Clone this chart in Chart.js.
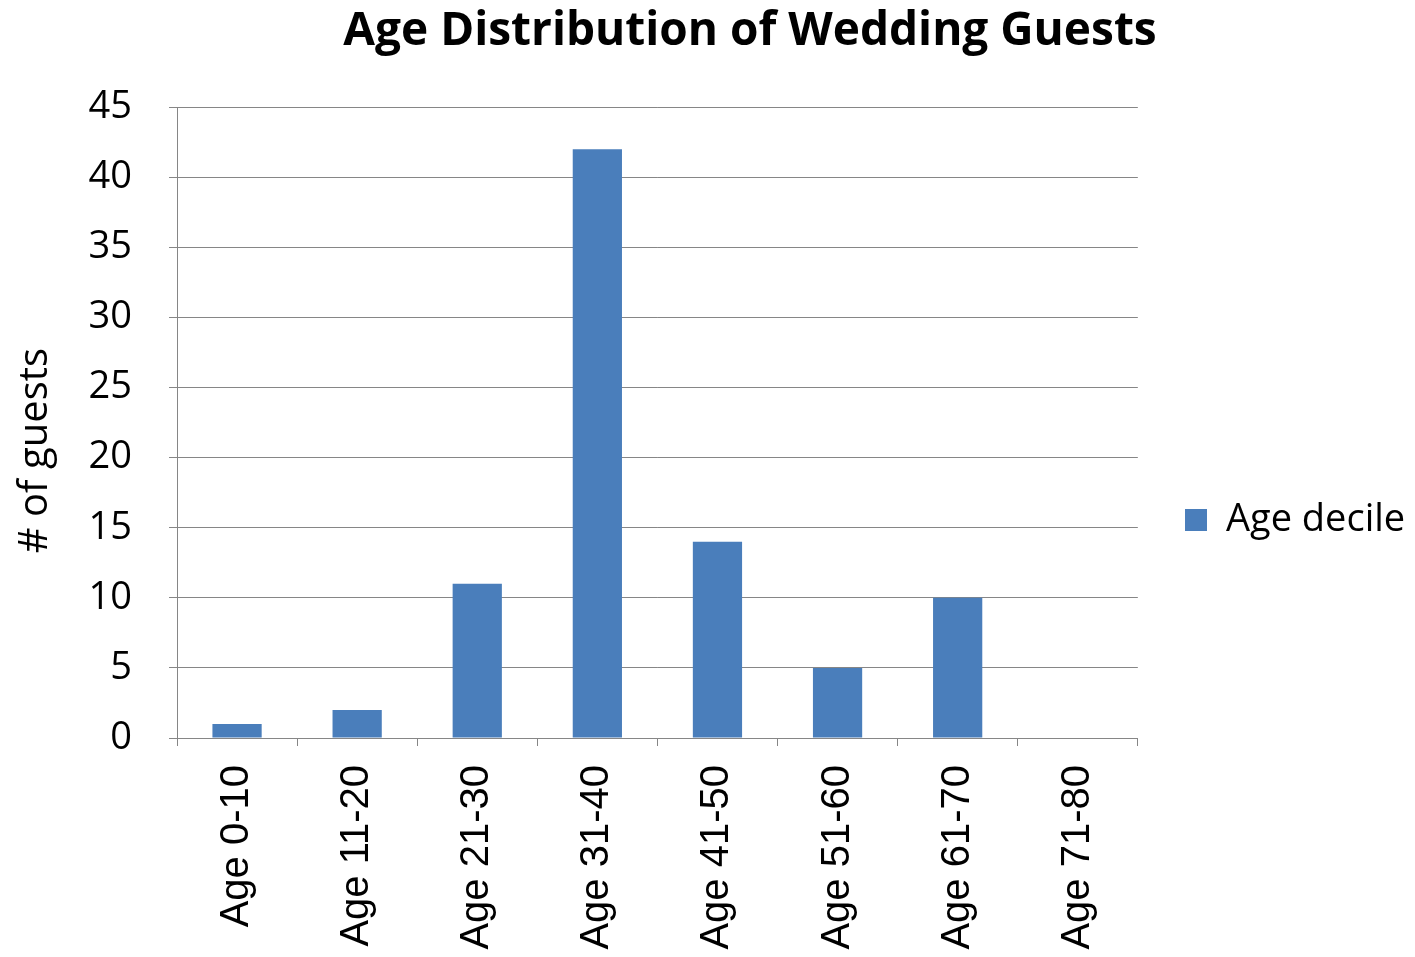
<!DOCTYPE html>
<html>
<head>
<meta charset="utf-8">
<title>Age Distribution of Wedding Guests</title>
<script src="https://cdn.jsdelivr.net/npm/chart.js@4"></script>
<style>
    body { margin: 0; background: #fff; }
    canvas { display: block; }
</style>
</head>
<body>
<canvas id="guests" width="1415" height="957"></canvas>
<script>
    // guest counts per age band
    const ageBands = ['Age 0-10', 'Age 11-20', 'Age 21-30', 'Age 31-40',
                      'Age 41-50', 'Age 51-60', 'Age 61-70', 'Age 71-80'];
    const guestCounts = [1, 2, 11, 42, 14, 5, 10, 0];
    const yTicks = [0, 5, 10, 15, 20, 25, 30, 35, 40, 45];

    const gridGray = '#868686';
    const barBlue = '#4a7ebb';

    Chart.defaults.font.family = "'Open Sans', sans-serif";
    Chart.defaults.color = '#000';

    // nudge title, legend and y title into place once the layout is done
    const placeBoxes = {
        id: 'placeBoxes',
        afterLayout(chart) {
            const t = chart.titleBlock;
            if (t) { t.left += 61; t.right += 61; }
            const lg = chart.legend;
            if (lg) {
                const w = lg.right - lg.left;
                lg.left = 1175; lg.right = 1175 + w;
                const h = lg.bottom - lg.top;
                lg.top = 491; lg.bottom = 491 + h;
            }
            const y = chart.scales.y;
            if (y && !y._titleShifted) {
                const drawTitle = y.drawTitle;
                y.drawTitle = function () {
                    this.ctx.save();
                    this.ctx.translate(0, 28);
                    drawTitle.call(this);
                    this.ctx.restore();
                };
                y._titleShifted = true;
            }
        }
    };

    const ctx = document.getElementById('guests');
    const myChart = new Chart(ctx, {
        type: 'bar',
        data: {
            labels: ageBands,
            datasets: [{
                label: 'Age decile',
                data: guestCounts,
                backgroundColor: barBlue,
                borderWidth: 0,
                barPercentage: 0.41,
                categoryPercentage: 1
            }]
        },
        plugins: [placeBoxes],
        options: {
            responsive: false,
            animation: false,
            layout: { padding: { left: 0, right: 37, top: 0, bottom: 0 } },
            scales: {
                x: {
                    afterFit: s => { s.height = 219; },
                    grid: {
                        offset: true,
                        drawOnChartArea: false,
                        drawTicks: true,
                        tickLength: 8,
                        color: gridGray
                    },
                    border: { color: gridGray, width: 1 },
                    ticks: {
                        minRotation: 90,
                        maxRotation: 90,
                        padding: 19,
                        font: { family: "'Liberation Sans', Arial, sans-serif", size: 40 }
                    }
                },
                y: {
                    min: 0,
                    max: 45,
                    afterFit: s => { s.width = 177; },
                    afterBuildTicks: s => { s.ticks = yTicks.map(v => ({ value: v })); },
                    grid: { color: gridGray, tickLength: 8 },
                    border: { color: gridGray, width: 1 },
                    ticks: {
                        padding: 37,
                        font: { size: 38 }
                    },
                    title: {
                        display: true,
                        text: '# of guests',
                        padding: { top: 12, bottom: 0 },
                        font: { size: 40 }
                    }
                }
            },
            plugins: {
                title: {
                    display: true,
                    text: 'Age Distribution of Wedding Guests',
                    color: '#000',
                    font: { size: 46, weight: 'bold' },
                    padding: { top: 4, bottom: 48 }
                },
                legend: {
                    position: 'right',
                    align: 'start',
                    labels: {
                        boxWidth: 22,
                        boxHeight: 22,
                        padding: 10,
                        font: { size: 38 }
                    }
                },
                tooltip: { enabled: false }
            }
        }
    });
</script>
</body>
</html>
